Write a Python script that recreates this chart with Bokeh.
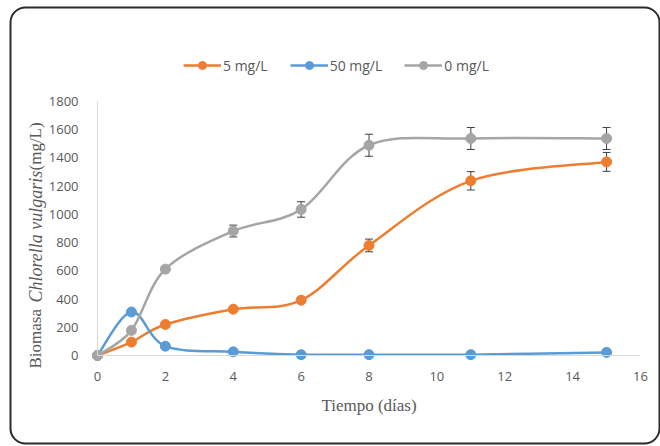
import numpy as np
from bokeh.plotting import figure
from bokeh.models import (ColumnDataSource, Whisker, Legend, LegendItem, Label,
                          BoxAnnotation, TeeHead)
from bokeh.embed import file_html
from bokeh.resources import INLINE

# ---------------- data ----------------
dias = [0, 1, 2, 4, 6, 8, 11, 15]
conc_5 = [0, 95, 220, 328, 392, 780, 1238, 1372]
err_5 = [0, 0, 0, 0, 20, 45, 65, 67]
conc_50 = [0, 308, 66, 26, 6, 6, 6, 22]
err_50 = [0, 0, 0, 0, 0, 0, 0, 0]
conc_0 = [0, 178, 612, 882, 1035, 1490, 1538, 1538]
err_0 = [0, 0, 20, 42, 55, 78, 78, 78]
series_names = ["5 mg/L", "50 mg/L", "0 mg/L"]
series_colors = ["#ED7D31", "#5B9BD5", "#A5A5A5"]
x_ticks = [0, 2, 4, 6, 8, 10, 12, 14, 16]
y_ticks = [0, 200, 400, 600, 800, 1000, 1200, 1400, 1600, 1800]

# ---------------- layout: frame covers the whole canvas ----------------
W, H = 660, 446
PX_X0, PX_X16 = 97.0, 640.0      # pixel of x=0 and x=16
PY_Y0, PY_Y1800 = 355.0, 101.0   # pixel of y=0 and y=1800
sx = (PX_X16 - PX_X0) / 16.0
sy = (PY_Y0 - PY_Y1800) / 1800.0
X0, X1 = -PX_X0 / sx, (W - PX_X0) / sx
Y0, Y1 = -(H - PY_Y0) / sy, PY_Y0 / sy

p = figure(width=W, height=H, x_range=(X0, X1), y_range=(Y0, Y1),
           output_backend="svg", toolbar_location=None,
           min_border=0)
p.outline_line_color = None
p.xgrid.visible = False
p.ygrid.visible = False
p.background_fill_color = "white"
p.border_fill_color = "white"


def px2x(px):
    return (px - PX_X0) / sx


def py2y(py):
    return (PY_Y0 - py) / sy


for ax, ticks, bnds in ((p.xaxis, x_ticks, (0, 16)), (p.yaxis, y_ticks, (0, 1800))):
    ax.ticker = ticks
    ax.bounds = bnds
    ax.fixed_location = 0
    ax.axis_line_color = "#D9D9D9"
    ax.axis_line_width = 1
    ax.major_tick_line_color = None
    ax.minor_tick_line_color = None
    ax.major_label_text_font = "Open Sans"
    ax.major_label_text_font_size = "13px"
    ax.major_label_text_color = "#595959"
p.xaxis.major_label_standoff = 10
p.yaxis.major_label_standoff = 13


def bezier_source(xs, ys):
    x = np.asarray(xs, float)
    y = np.asarray(ys, float)
    n = len(x)
    xp = np.concatenate([[x[0]], x, [x[-1]]])
    yp = np.concatenate([[y[0]], y, [y[-1]]])
    i = np.arange(n - 1)
    return ColumnDataSource(dict(
        x0=x[:-1], y0=y[:-1], x1=x[1:], y1=y[1:],
        cx0=x[i] + (xp[i + 2] - xp[i]) / 6, cy0=y[i] + (yp[i + 2] - yp[i]) / 6,
        cx1=x[i + 1] - (xp[i + 3] - xp[i + 1]) / 6, cy1=y[i + 1] - (yp[i + 3] - yp[i + 1]) / 6,
    ))


items = []
all_series = [conc_5, conc_50, conc_0]
all_err = [err_5, err_50, err_0]
for name, col, ys, es in zip(series_names, series_colors, all_series, all_err):
    bz = p.bezier(x0="x0", y0="y0", x1="x1", y1="y1", cx0="cx0", cy0="cy0",
                  cx1="cx1", cy1="cy1", source=bezier_source(dias, ys),
                  line_color=col, line_width=2.5)
    sc = p.scatter(dias, ys, size=10, marker="circle", fill_color=col, line_color=col)
    items.append(LegendItem(label=name, renderers=[bz, sc]))
    xs_e = [d for d, e in zip(dias, es) if e > 0]
    up = [v + e for v, e in zip(ys, es) if e > 0]
    lo = [v - e for v, e in zip(ys, es) if e > 0]
    if xs_e:
        src = ColumnDataSource(dict(x=xs_e, upper=up, lower=lo))
        wk = Whisker(source=src, base="x", upper="upper", lower="lower",
                     line_color="#404040", line_width=1,
                     upper_head=TeeHead(size=8, line_color="#404040", line_width=1),
                     lower_head=TeeHead(size=8, line_color="#404040", line_width=1))
        p.add_layout(wk)

legend = Legend(items=items, orientation="horizontal", location=(183, H - 75),
                glyph_width=38, glyph_height=20, label_height=20, label_standoff=2,
                spacing=22, padding=0, margin=0, border_line_color=None,
                background_fill_alpha=0, label_text_font="Open Sans",
                label_text_font_size="14px", label_text_color="#595959")
p.add_layout(legend)

# axis titles
serif = "Liberation Serif"
tcol = "#595959"
p.add_layout(Label(x=px2x(368.5), y=py2y(405), text="Tiempo (días)", text_font=serif,
                   text_font_size="17px", text_color=tcol, text_align="center",
                   text_baseline="middle"))
for txt, start, style, size in (("Biomasa", 368, "normal", "17px"),
                                ("Chlorella vulgaris", 302, "italic", "18px"),
                                ("(mg/L)", 170, "normal", "17px")):
    p.add_layout(Label(x=px2x(35), y=py2y(start), text=txt, angle=np.pi / 2,
                       text_font=serif, text_font_size=size, text_font_style=style,
                       text_color=tcol, text_align="left", text_baseline="middle"))

# rounded frame around the chart
p.add_layout(BoxAnnotation(left=10, right=659, top=7, bottom=443,
                           left_units="canvas", right_units="canvas",
                           top_units="canvas", bottom_units="canvas",
                           fill_alpha=0, line_color="#2B2B2B", line_alpha=1.0,
                           line_width=2, border_radius=15))

open("out.html", "w").write(file_html(p, INLINE))
